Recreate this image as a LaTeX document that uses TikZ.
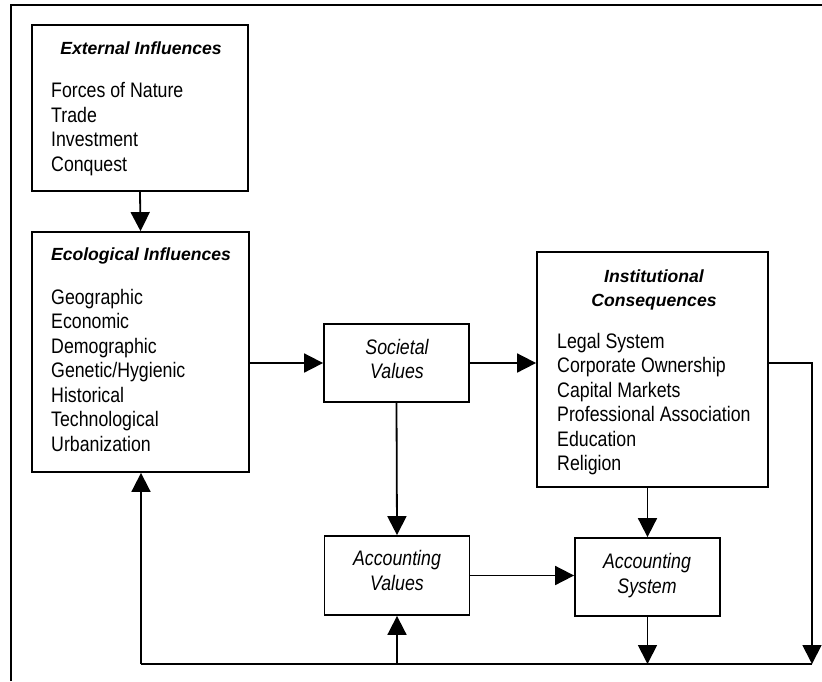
\documentclass[tikz,border=0pt]{standalone}
\usepackage{fontspec}
\setmainfont{Liberation Sans}
\newfontfamily\narrowfont{Liberation Sans}[FakeStretch=0.845]
\usetikzlibrary{arrows.meta}
\tikzset{
  box/.style={draw, line width=1.8pt, rectangle, inner sep=0pt},
  conn/.style={line width=1.8pt},
  arr/.style={line width=1.8pt, -{Triangle[length=19pt,width=19pt]}},
  frame/.style={line width=2pt},
  ttl/.style={inner sep=0pt, anchor=base, align=center, font=\fontsize{17.6}{24}\selectfont\bfseries\itshape},
  itm/.style={inner sep=0pt, anchor=base west, align=left, font=\narrowfont\fontsize{21}{24.5}\selectfont},
  val/.style={inner sep=0pt, anchor=base, align=center, font=\narrowfont\fontsize{21}{24.2}\selectfont\itshape}
}
\begin{document}
\begin{tikzpicture}[x=1pt,y=-1pt]
\useasboundingbox (0,0) rectangle (822,681);
\draw[frame] (11,681) -- (11,5) -- (822,5);
% boxes
\node[box, minimum width=216pt, minimum height=166pt] (ext) at (140,108) {};
\node[box, minimum width=217pt, minimum height=240pt] (eco) at (140.5,352) {};
\node[box, minimum width=145pt, minimum height=78pt] (soc) at (396.5,363) {};
\node[box, minimum width=231pt, minimum height=235pt] (inst) at (652.5,369.5) {};
\node[box, minimum width=145pt, minimum height=79pt] (accv) at (397,575.5) {};
\node[box, minimum width=145pt, minimum height=78pt] (accs) at (647.5,577) {};
% texts (base anchor = baseline of the last line)
\node[ttl] (extT) at (141,54) {External Influences};
\node[itm] (extL) at (51,171) {Forces of Nature\\Trade\\Investment\\Conquest};
\node[ttl] (ecoT) at (141,260.5) {Ecological Influences};
\node[itm] (ecoL) at (51,451) {Geographic\\Economic\\Demographic\\Genetic/Hygienic\\Historical\\Technological\\Urbanization};
\node[val] (socT) at (397,378.5) {Societal\\Values};
\node[ttl] (instT) at (654,306) {Institutional\\Consequences};
\node[itm] (instL) at (557,470.5) {Legal System\\Corporate Ownership\\Capital Markets\\Professional Association\\Education\\Religion};
\node[val] (accvT) at (397,590) {Accounting\\Values};
\node[val] (accsT) at (647,593) {Accounting\\System};
% connectors
\coordinate (R) at (812,664);
\coordinate (BL) at (141,664);
\draw[arr] (ext.south) -- (eco.north);
\draw[arr] (eco.east |- soc.west) -- (soc.west);
\draw[arr] (soc.east) -- (soc.east -| inst.west);
\draw[arr] (soc.south) -- (accv.north);
\draw[arr] (accs.north |- inst.south) -- (accs.north);
\draw[arr] (accv.east) -- (accv.east -| accs.west);
\draw[arr] (inst.east |- soc.east) -| (R);
\draw[arr] (accs.south) -- (accs.south |- R);
\draw[conn] (R) -- (BL);
\draw[arr] (BL) -- (BL |- eco.south);
\draw[arr] (accv.south |- R) -- (accv.south);
\end{tikzpicture}
\end{document}
